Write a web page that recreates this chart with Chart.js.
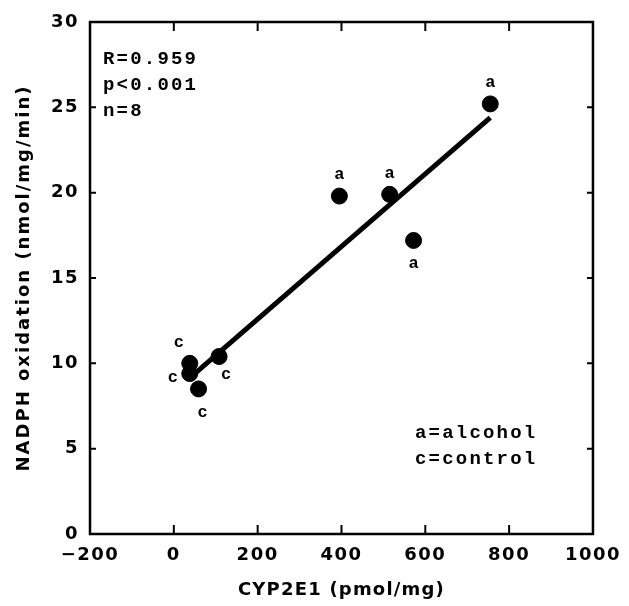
<!DOCTYPE html>
<html>
<head>
<meta charset="utf-8">
<script src="https://cdn.jsdelivr.net/npm/chart.js@4"></script>
<style>
  html, body { margin: 0; padding: 0; background: #fff; }
</style>
</head>
<body>
<canvas id="chart" width="629" height="606"></canvas>
<script>
/* data */
const alcoholX = [395, 515, 572, 755];
const alcoholY = [19.8, 19.9, 17.2, 25.2];
const controlX = [38, 38, 108, 59];
const controlY = [10.0, 9.4, 10.4, 8.5];
const fitX = [45, 755];
const fitY = [9.3, 24.4];
const xTicks = [-200, 0, 200, 400, 600, 800, 1000];
const yTicks = [0, 5, 10, 15, 20, 25, 30];
const statsText = ["R=0.959", "p<0.001", "n=8"];
const keyText = ["a=alcohol", "c=control"];
const xTitle = "CYP2E1 (pmol/mg)";
const yTitle = "NADPH oxidation (nmol/mg/min)";

/* where each point letter sits, relative to its point (px) */
const alcoholLabelOffset = [[0, -21], [0, -21], [0, 23], [0, -21]];
const controlLabelOffset = [[-11, -21], [-17, 4], [7, 18], [4, 24]];

const toPoints = (xs, ys) => xs.map((x, i) => ({ x: x, y: ys[i] }));

// the scanned figure has widely spaced lettering
const spacingPlugin = {
  id: "spacing",
  beforeDraw(chart) {
    chart.ctx.letterSpacing = "1.5px";
  },
};

// frame + inward ticks, like the original plot
const framePlugin = {
  id: "frame",
  afterDraw(chart) {
    const ctx = chart.ctx;
    const a = chart.chartArea;
    const xs = chart.scales.x;
    const ys = chart.scales.y;
    ctx.save();
    ctx.strokeStyle = "#000";
    ctx.lineWidth = 2.5;
    ctx.strokeRect(a.left, a.top, a.right - a.left, a.bottom - a.top);
    ctx.lineWidth = 2;
    ctx.beginPath();
    xTicks.slice(1, -1).forEach((v) => {
      const px = xs.getPixelForValue(v);
      ctx.moveTo(px, a.bottom);
      ctx.lineTo(px, a.bottom - 9);
      ctx.moveTo(px, a.top);
      ctx.lineTo(px, a.top + 9);
    });
    yTicks.slice(1, -1).forEach((v) => {
      const py = ys.getPixelForValue(v);
      ctx.moveTo(a.left, py);
      ctx.lineTo(a.left + 6, py);
      ctx.moveTo(a.right, py);
      ctx.lineTo(a.right - 6, py);
    });
    ctx.stroke();

    // axis titles
    ctx.fillStyle = "#000";
    ctx.font = "bold 18px 'DejaVu Sans'";
    ctx.textAlign = "center";
    ctx.textBaseline = "middle";
    ctx.letterSpacing = "1.2px";
    ctx.fillText(xTitle, (a.left + a.right) / 2, 590);
    ctx.letterSpacing = "2px";
    ctx.translate(24, (a.top + a.bottom) / 2);
    ctx.rotate(-Math.PI / 2);
    ctx.fillText(yTitle, 0, 0);
    ctx.restore();
  },
};

// letters next to points + text blocks
const textPlugin = {
  id: "texts",
  afterDatasetsDraw(chart) {
    const ctx = chart.ctx;
    const a = chart.chartArea;
    ctx.save();
    ctx.letterSpacing = "0px";
    ctx.fillStyle = "#000";
    ctx.textAlign = "center";
    ctx.textBaseline = "middle";
    ctx.font = "bold 17px 'Liberation Mono'";
    chart.getDatasetMeta(0).data.forEach((pt, i) => {
      const o = alcoholLabelOffset[i];
      ctx.fillText("a", pt.x + o[0], pt.y + o[1]);
    });
    chart.getDatasetMeta(1).data.forEach((pt, i) => {
      const o = controlLabelOffset[i];
      ctx.fillText("c", pt.x + o[0], pt.y + o[1]);
    });

    ctx.textAlign = "left";
    ctx.font = "bold 19px 'Liberation Mono'";
    ctx.letterSpacing = "2.2px";
    statsText.forEach((t, i) => {
      ctx.fillText(t, a.left + 13, a.top + 37 + i * 26);
    });
    keyText.forEach((t, i) => {
      ctx.fillText(t, a.left + 325, a.top + 411 + i * 26);
    });
    ctx.restore();
  },
};

const tickFont = { family: "'DejaVu Sans'", size: 18, weight: "bold" };
const tickLabel = (v) => (v < 0 ? "\u2212" + Math.abs(v) : String(v));

new Chart(document.getElementById("chart"), {
  type: "scatter",
  data: {
    datasets: [
      {
        label: "alcohol",
        data: toPoints(alcoholX, alcoholY),
        backgroundColor: "#000",
        borderColor: "#000",
        pointRadius: 8,
      },
      {
        label: "control",
        data: toPoints(controlX, controlY),
        backgroundColor: "#000",
        borderColor: "#000",
        pointRadius: 8,
      },
      {
        label: "fit",
        data: toPoints(fitX, fitY),
        showLine: true,
        borderColor: "#000",
        borderWidth: 5,
        pointRadius: 0,
        borderCapStyle: "butt",
      },
    ],
  },
  options: {
    responsive: false,
    animation: false,
    devicePixelRatio: 1,
    layout: { padding: { top: 22, right: 29, left: 0, bottom: 0 } },
    plugins: {
      legend: { display: false },
      tooltip: { enabled: false },
    },
    scales: {
      x: {
        type: "linear",
        min: -200,
        max: 1000,
        afterBuildTicks: (s) => { s.ticks = xTicks.map((v) => ({ value: v })); },
        afterFit: (s) => { s.height = 72; },
        grid: { display: false, drawTicks: false },
        border: { display: false },
        ticks: { color: "#000", font: tickFont, padding: 11, maxRotation: 0, callback: tickLabel },
      },
      y: {
        type: "linear",
        min: 0,
        max: 30,
        afterBuildTicks: (s) => { s.ticks = yTicks.map((v) => ({ value: v })); },
        afterFit: (s) => { s.width = 90; },
        grid: { display: false, drawTicks: false },
        border: { display: false },
        ticks: { color: "#000", font: tickFont, padding: 11, callback: tickLabel },
      },
    },
  },
  plugins: [spacingPlugin, framePlugin, textPlugin],
});
</script>
</body>
</html>
